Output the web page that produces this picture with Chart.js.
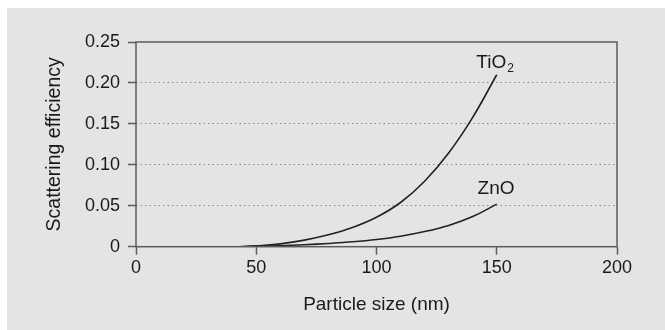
<!DOCTYPE html>
<html>
<head>
<meta charset="utf-8">
<script src="https://cdn.jsdelivr.net/npm/chart.js@4"></script>
<style>
  html, body { margin: 0; padding: 0; background: #ffffff; }
  #wrap { position: absolute; left: 7px; top: 8px; width: 658px; height: 322px; background: #e3e4e5; }
  canvas { display: block; }
</style>
</head>
<body>
<div id="wrap"><canvas id="chart" width="658" height="322"></canvas></div>
<script>
"use strict";

// Partikelstorlek (nm) och spridningseffektivitet
const sizes = [42, 50, 60, 70, 80, 90, 100, 110, 120, 130, 140, 150];
const tio2 = [0, 0.001, 0.0035, 0.008, 0.0145, 0.0235, 0.036, 0.054, 0.080, 0.1145, 0.158, 0.21];
const zno = [0, 0.0004, 0.0012, 0.0024, 0.004, 0.006, 0.0088, 0.0128, 0.0185, 0.026, 0.0368, 0.052];
const xTicks = [0, 50, 100, 150, 200];
const yTicks = [0, 0.05, 0.10, 0.15, 0.20, 0.25];

const FONT = "'Liberation Sans', Arial, Helvetica, sans-serif";
const frameColor = '#5c5c5c';

/**
 * Ritar ram runt diagramytan samt etiketter vid kurvornas slut
 */
const framePlugin = {
    id: 'frame',
    afterDraw(chart) {
        const { ctx, chartArea: a, scales } = chart;
        ctx.save();
        ctx.strokeStyle = frameColor;
        ctx.lineWidth = 1.5;
        ctx.strokeRect(a.left, a.top, a.right - a.left, a.bottom - a.top);

        // kurvetiketter
        ctx.fillStyle = '#1a1a1a';
        ctx.textBaseline = 'alphabetic';
        const labels = [
            { main: 'TiO', sub: '2', x: 149.3, y: 0.2186 },
            { main: 'ZnO', sub: '', x: 149.7, y: 0.0647 }
        ];
        labels.forEach(l => {
            ctx.font = '19px ' + FONT;
            const wMain = ctx.measureText(l.main).width;
            ctx.font = '12px ' + FONT;
            const wSub = l.sub ? ctx.measureText(l.sub).width + 1 : 0;
            const cx = scales.x.getPixelForValue(l.x);
            const by = scales.y.getPixelForValue(l.y);
            const left = cx - (wMain + wSub) / 2;
            ctx.font = '19px ' + FONT;
            ctx.textAlign = 'left';
            ctx.fillText(l.main, left, by);
            if (l.sub) {
                ctx.font = '12px ' + FONT;
                ctx.fillText(l.sub, left + wMain + 1, by + 4.5);
            }
        });
        ctx.restore();
    }
};

function toPoints(ys) {
    return sizes.map((s, i) => ({ x: s, y: ys[i] }));
}

const ctx = document.getElementById('chart').getContext('2d');
new Chart(ctx, {
    type: 'line',
    data: {
        datasets: [
            {
                label: 'TiO2',
                data: toPoints(tio2),
                borderColor: '#222222',
                borderWidth: 1.6,
                pointRadius: 0,
                tension: 0.4,
                fill: false
            },
            {
                label: 'ZnO',
                data: toPoints(zno),
                borderColor: '#222222',
                borderWidth: 1.6,
                pointRadius: 0,
                tension: 0.4,
                fill: false
            }
        ]
    },
    options: {
        responsive: false,
        animation: false,
        events: [],
        layout: { padding: { top: 34, right: 48, left: 0, bottom: 0 } },
        plugins: {
            legend: { display: false },
            tooltip: { enabled: false }
        },
        scales: {
            x: {
                type: 'linear',
                min: 0,
                max: 200,
                afterBuildTicks: scale => { scale.ticks = xTicks.map(v => ({ value: v })); },
                afterFit: scale => { scale.height = 83.3; },
                grid: {
                    drawOnChartArea: false,
                    tickLength: 8,
                    tickColor: frameColor,
                    tickWidth: 1.5
                },
                border: { display: false },
                ticks: {
                    color: '#1a1a1a',
                    font: { family: FONT, size: 18 },
                    padding: 3,
                    maxRotation: 0
                },
                title: {
                    display: true,
                    text: 'Particle size (nm)',
                    color: '#1a1a1a',
                    font: { family: FONT, size: 19 },
                    padding: { top: 0, bottom: 14 }
                }
            },
            y: {
                type: 'linear',
                min: 0,
                max: 0.25,
                afterBuildTicks: scale => { scale.ticks = yTicks.map(v => ({ value: v })); },
                afterFit: scale => { scale.width = 129; },
                grid: {
                    color: c => (c.tick && (c.tick.value === 0 || c.tick.value === 0.25)) ? 'rgba(0,0,0,0)' : '#8c8c8c',
                    lineWidth: 1,
                    tickLength: 8,
                    tickColor: frameColor,
                    tickWidth: 1.5,
                    tickBorderDash: []
                },
                border: { display: false, dash: [1.5, 3] },
                ticks: {
                    color: '#1a1a1a',
                    font: { family: FONT, size: 18 },
                    padding: 8,
                    callback: v => v === 0 ? '0' : v.toFixed(2)
                },
                title: {
                    display: true,
                    text: 'Scattering efficiency',
                    color: '#1a1a1a',
                    font: { family: FONT, size: 19.5 },
                    padding: { top: 36, bottom: 0 }
                }
            }
        }
    },
    plugins: [framePlugin]
});
</script>
</body>
</html>
